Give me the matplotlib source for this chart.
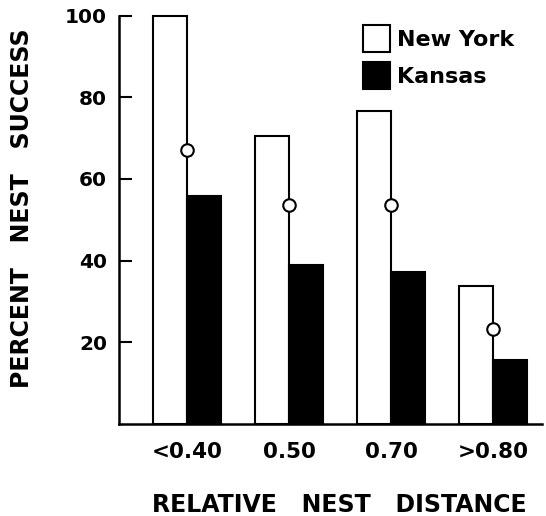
import matplotlib
matplotlib.use("Agg")
import matplotlib.pyplot as plt
import numpy as np
from matplotlib.patches import Patch

categories = ["<0.40", "0.50", "0.70", ">0.80"]
new_york = [100, 70.6, 76.7, 33.7]
kansas = [55.9, 38.9, 37.1, 15.6]
combined = [67.0, 53.7, 53.7, 23.2]
yticks = [20, 40, 60, 80, 100]

plt.rcParams['font.family'] = ['DejaVu Sans']
plt.rcParams['font.weight'] = 'bold'

fig = plt.figure(figsize=(5.46, 5.16), dpi=100)
ax = fig.add_axes([119/546, 92/516, (542-119)/546, (500.5-92)/516])

x = np.arange(len(categories))
w = 0.333
ax.bar(x - w/2, new_york, width=w, color='white', edgecolor='black', linewidth=1.5, clip_on=False, label='New York')
ax.bar(x + w/2, kansas, width=w, color='black', edgecolor='black', linewidth=1.5, clip_on=False, label='Kansas')
ax.plot(x, combined, 'o', markersize=9, markerfacecolor='white', markeredgecolor='black', markeredgewidth=1.5, zorder=5, clip_on=False)

ax.set_xlim(-0.667, 3.48)
ax.set_ylim(0, 100)
ax.set_yticks(yticks)
ax.set_xticks(x)
ax.set_xticklabels(categories, fontsize=15.5, fontweight='bold')
ax.tick_params(axis='x', length=0, pad=13)
ax.tick_params(axis='y', direction='in', length=9.5, width=1.5, pad=8.6, labelsize=14.5)
for lab in ax.get_yticklabels():
    lab.set_fontweight('bold')

for s in ['top', 'right']:
    ax.spines[s].set_visible(False)
for s in ['left', 'bottom']:
    ax.spines[s].set_linewidth(1.8)

ax.set_ylabel("PERCENT   NEST   SUCCESS", fontsize=17, fontweight='bold')
ax.yaxis.set_label_coords(-0.20, 0.529)
ax.set_xlabel("RELATIVE   NEST   DISTANCE", fontsize=17, fontweight='bold')
ax.xaxis.set_label_coords(0.52, -0.169)

handles = [Patch(facecolor='white', edgecolor='black', linewidth=1.5),
           Patch(facecolor='black', edgecolor='black', linewidth=1.5)]
ax.legend(handles, ['New York', 'Kansas'], loc='upper left', bbox_to_anchor=(0.546, 1.01),
          frameon=False, handlelength=1.2, handleheight=1.5,
          handletextpad=0.3, labelspacing=0.45, borderaxespad=0.2,
          prop={'weight': 'bold', 'size': 16})

fig.savefig("out.png", dpi=100)
